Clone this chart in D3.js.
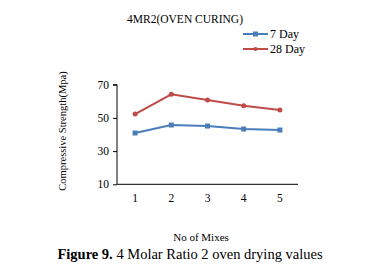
<!DOCTYPE html>
<html>
<head>
<meta charset="utf-8">
<script src="https://cdn.jsdelivr.net/npm/d3@7"></script>
<style>
  body { margin: 0; background: #fff; }
  svg text { font-family: "Liberation Serif", "Times New Roman", Times, serif !important; fill: #000; }
</style>
</head>
<body>
<script>
// chart data
const mixes = ["1", "2", "3", "4", "5"];
const day7 = [40.9, 45.7, 45.1, 43.3, 42.7];
const day28 = [52.3, 64.2, 60.8, 57.3, 54.8];
const yTicks = [10, 30, 50, 70];

const w = 379;
const h = 275;

const svg = d3.select("body")
  .append("svg")
  .attr("width", w)
  .attr("height", h)
  .attr("font-family", "Liberation Serif");

const x = d3.scaleBand().domain(mixes).range([117, 298]);
const y = d3.scaleLinear().domain([10, 70]).range([184.3, 84.7]);

// y axis
const yAxis = svg.append("g")
  .attr("transform", "translate(117,0)")
  .call(d3.axisLeft(y).tickValues(yTicks).tickSize(4).tickPadding(4));
yAxis.attr("font-family", null);
yAxis.select(".domain").attr("stroke", "#000").attr("d", "M-4,84.7H0V184.3");
yAxis.selectAll("text").attr("font-size", 11.5);

// x axis
const xAxis = svg.append("g")
  .attr("transform", "translate(0,184.3)")
  .call(d3.axisBottom(x).tickSize(0).tickPadding(10));
xAxis.attr("font-family", null);
xAxis.select(".domain").attr("stroke", "#000").attr("d", "M117,0H298");
xAxis.selectAll("text").attr("font-size", 11.5);

const cx = (d, i) => x(mixes[i]) + x.bandwidth() / 2;
const line = d3.line().x(cx).y((d) => y(d));

// 7 day series
svg.append("path")
  .datum(day7)
  .attr("d", line)
  .attr("fill", "none")
  .attr("stroke", "#4a7ebb")
  .attr("stroke-width", 2);
svg.selectAll(".m7")
  .data(day7)
  .enter()
  .append("rect")
  .attr("x", (d, i) => cx(d, i) - 2.5)
  .attr("y", (d) => y(d) - 2.5)
  .attr("width", 5)
  .attr("height", 5)
  .attr("fill", "#4a7ebb");

// 28 day series
svg.append("path")
  .datum(day28)
  .attr("d", line)
  .attr("fill", "none")
  .attr("stroke", "#be4b48")
  .attr("stroke-width", 2);
svg.selectAll(".m28")
  .data(day28)
  .enter()
  .append("circle")
  .attr("cx", cx)
  .attr("cy", (d) => y(d))
  .attr("r", 2.5)
  .attr("fill", "#be4b48");

// title
svg.append("text")
  .text("4MR2(OVEN CURING)")
  .attr("x", 185)
  .attr("y", 23)
  .attr("text-anchor", "middle")
  .attr("font-size", 11.5);

// legend
const legend = svg.append("g").attr("transform", "translate(243,34)");
const legendItems = [
  { name: "7 Day", color: "#4a7ebb", shape: "rect" },
  { name: "28 Day", color: "#be4b48", shape: "circle" }
];
legendItems.forEach((item, i) => {
  const g = legend.append("g").attr("transform", `translate(0,${i * 15})`);
  g.append("line")
    .attr("x1", 0).attr("x2", 25)
    .attr("stroke", item.color)
    .attr("stroke-width", 2);
  if (item.shape === "rect") {
    g.append("rect").attr("x", 10).attr("y", -2.5).attr("width", 5).attr("height", 5).attr("fill", item.color);
  } else {
    g.append("circle").attr("cx", 12.5).attr("r", 2).attr("fill", item.color);
  }
  g.append("text")
    .text(item.name)
    .attr("x", 27)
    .attr("y", 4)
    .attr("font-size", 12);
});

// axis titles
svg.append("text")
  .text("Compressive Strength(Mpa)")
  .attr("transform", "translate(66,131) rotate(-90)")
  .attr("text-anchor", "middle")
  .attr("font-size", 10.5);

svg.append("text")
  .text("No of Mixes")
  .attr("x", 201)
  .attr("y", 241)
  .attr("text-anchor", "middle")
  .attr("font-size", 11);

// caption
const cap = svg.append("text")
  .attr("x", 190)
  .attr("y", 259)
  .attr("text-anchor", "middle")
  .attr("font-size", 14.5);
cap.append("tspan").attr("font-weight", "bold").text("Figure 9.");
cap.append("tspan").text(" 4 Molar Ratio 2 oven drying values");
</script>
</body>
</html>
